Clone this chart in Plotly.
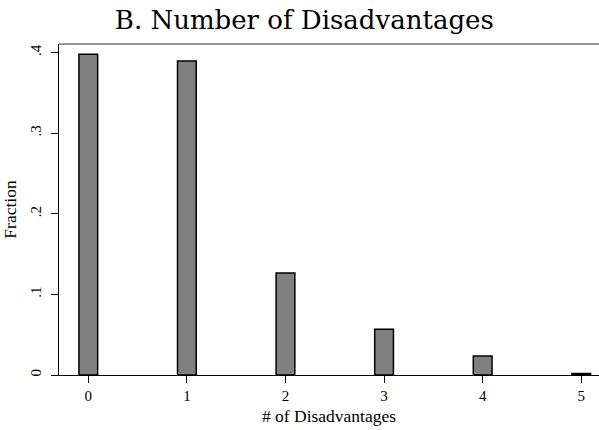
import plotly.graph_objects as go

categories = [0, 1, 2, 3, 4, 5]
fractions = [0.398, 0.3896, 0.1266, 0.0567, 0.0236, 0.002]
y_tickvals = [0, 0.1, 0.2, 0.3, 0.4]
y_ticktext = ["0", ".1", ".2", ".3", ".4"]

fig = go.Figure(go.Bar(
    x=categories, y=fractions, width=0.19,
    marker=dict(color="#808080", line=dict(color="black", width=1.5)),
    hoverinfo="skip",
))

serif = "Liberation Serif, Times New Roman, serif"
tick_font = dict(family=serif, size=15, color="black")
title_font = dict(family=serif, size=17.5, color="black")
fig.update_layout(
    width=599, height=430,
    margin=dict(l=59, r=0, t=44, b=55),
    paper_bgcolor="white", plot_bgcolor="white",
    showlegend=False,
    title=dict(text="B. Number of Disadvantages", x=0.508, xanchor="center", y=0.9535, yanchor="middle",
               font=dict(family="DejaVu Serif, Liberation Serif, serif", size=26, color="black")),
    xaxis=dict(range=[-0.297, 5.18], tickvals=categories, ticks="outside", ticklen=7,
               tickcolor="black", showline=True, linecolor="black", linewidth=1.2,
               showgrid=False, zeroline=False, tickfont=tick_font,
               title=dict(text="# of Disadvantages", font=title_font, standoff=6)),
    yaxis=dict(range=[0, 0.4107], tickvals=y_tickvals, ticktext=y_ticktext, tickangle=-90,
               ticks="outside", ticklen=7, tickcolor="black", showline=True, linecolor="black",
               linewidth=1.2, showgrid=False, zeroline=False, tickfont=tick_font,
               ticklabelstandoff=4,
               title=dict(text="Fraction", font=title_font, standoff=6)),
    shapes=[dict(type="line", xref="paper", yref="paper", x0=0, x1=1, y0=1, y1=1,
                 line=dict(color="#777777", width=1.5))],
)
fig.write_html("out.html", config={"displayModeBar": False},
               post_script="document.body.style.margin='0px';")
